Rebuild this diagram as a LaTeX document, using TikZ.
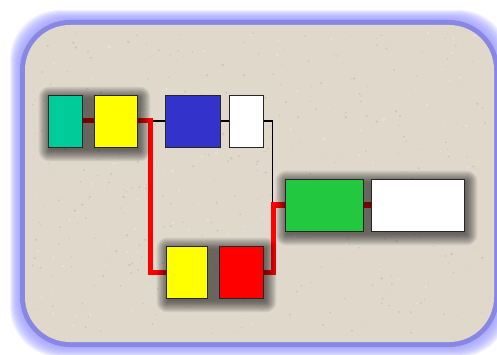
\documentclass[tikz,border=0pt]{standalone}
\usepackage{tikz}
\usetikzlibrary{calc}
\definecolor{TealBox}{RGB}{0,204,153}
\definecolor{YellowBox}{RGB}{255,255,0}
\definecolor{RedBox}{RGB}{255,0,0}
\definecolor{BlueBox}{RGB}{51,51,204}
\definecolor{GreenBox}{RGB}{34,200,64}
\definecolor{Paper}{RGB}{223,216,203}
\definecolor{Speck}{RGB}{170,160,145}
\definecolor{FrameBlue}{RGB}{136,136,228}
\definecolor{GlowBlue}{RGB}{150,150,255}

\pgfdeclarelayer{paper}
\pgfdeclarelayer{wires}
\pgfdeclarelayer{shade}
\pgfsetlayers{paper,wires,shade,main}

\newcommand{\dropshade}[2]{%
  \foreach \i in {0,...,11}
    \fill[black,opacity=0.06,rounded corners=\i]
      ($(#1.north west)+(-\i+2,-\i+3)$) rectangle ($(#2.south east)+(\i+2,\i+3)$);}

\begin{document}
\begin{tikzpicture}[x=1pt,y=-1pt,
  box/.style={draw=black!85,line width=0.9pt,inner sep=0pt,minimum width=#1,minimum height=52},
  thinwire/.style={black,line width=1.6pt},
  redwire/.style={RedBox,line width=5pt}]
  \useasboundingbox (0,0) rectangle (497,355);

  \node[box=34,fill=TealBox] (teal) at (65,121) {};
  \node[box=43,fill=YellowBox] (yelA) at (115.5,121) {};
  \node[box=55,fill=BlueBox] (blue) at (192.5,121) {};
  \node[box=34,fill=white] (whtA) at (246,121) {};
  \node[box=41,fill=YellowBox] (yelB) at (186.5,272) {};
  \node[box=44,fill=RedBox] (redbox) at (241,272) {};
  \node[box=78,fill=GreenBox] (green) at (324,205) {};
  \node[box=93,fill=white] (whtB) at (417.5,205) {};

  \begin{pgfonlayer}{paper}
    \foreach \i in {10,9,...,1}
      \fill[GlowBlue,opacity=0.14,rounded corners=50] (20-\i,20-\i) rectangle (499+\i,347+\i);
    \fill[FrameBlue,rounded corners=50] (20,20) rectangle (499,347);
    \fill[Paper,rounded corners=45] (25,25) rectangle (494,342);
    \pgfmathsetseed{11}
    \foreach \k in {1,...,350}
      \fill[Speck,opacity=0.35] (32+rnd*455,32+rnd*303) circle (0.4+rnd*0.9);
    \foreach \k in {1,...,150}
      \fill[white,opacity=0.3] (32+rnd*455,32+rnd*303) circle (0.5+rnd*1);
  \end{pgfonlayer}

  \begin{pgfonlayer}{wires}
    \draw[thinwire] (yelA.east) -- (blue.west);
    \draw[thinwire] (blue.east) -- (whtA.west);
    \draw[thinwire] (whtA.east) -- ++(9,0) |- (green.west);
    \draw[redwire] (teal.east) -- (yelA.west);
    \draw[redwire] (yelA.east) -- ++(13,0) |- (yelB.west);
    \draw[redwire] (redbox.east) -- ++(10,0) |- (green.west);
    \draw[redwire] (green.east) -- (whtB.west);
  \end{pgfonlayer}

  \begin{pgfonlayer}{shade}
    \dropshade{teal}{yelA}
    \dropshade{yelB}{redbox}
    \dropshade{green}{whtB}
  \end{pgfonlayer}
\end{tikzpicture}
\end{document}
